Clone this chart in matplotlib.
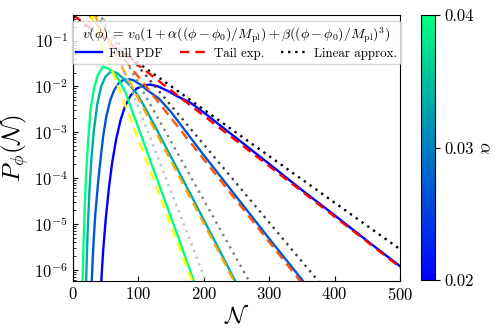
import numpy as np
import matplotlib
matplotlib.use("Agg")
import matplotlib.pyplot as plt
from matplotlib.lines import Line2D

plt.rcParams['font.family'] = 'serif'
plt.rcParams['font.serif'] = ['cmr10']
plt.rcParams['mathtext.fontset'] = 'cm'
plt.rcParams['axes.formatter.use_mathtext'] = True

# alpha values of the four curves
alphas = [0.02, 0.0267, 0.0333, 0.04]

# full PDF (N, log10 P)
full_N = [
    [43, 46, 50, 55, 60, 66, 73, 80, 88, 97, 108, 118, 130, 145, 160, 180,
     200, 225, 250, 300, 350, 400, 450, 500],
    [28.5, 31, 34, 38, 42, 46, 51, 57, 63, 70, 77, 85, 93, 103, 115, 131,
     150, 175, 200, 250, 300, 356],
    [20, 22, 25, 28, 32, 37, 43, 50, 58, 66, 75, 85, 97, 110, 125, 150,
     175, 200, 225, 250],
    [14.5, 16, 18, 20, 23, 27, 32, 38, 46, 55, 62, 70, 80, 90, 100, 120,
     140, 160, 186],
]
full_logP = [
    [-6.3, -5.6, -4.9, -4.2, -3.65, -3.15, -2.72, -2.42, -2.2, -2.05, -1.98,
     -1.96, -2.0, -2.1, -2.22, -2.36, -2.57, -2.85, -3.13, -3.69, -4.26,
     -4.81, -5.37, -5.92],
    [-6.3, -5.5, -4.8, -4.15, -3.6, -3.1, -2.65, -2.3, -2.08, -1.93, -1.86,
     -1.84, -1.87, -1.96, -2.1, -2.26, -2.56, -3.03, -3.5, -4.41, -5.32,
     -6.32],
    [-6.3, -5.3, -4.3, -3.6, -2.95, -2.4, -2.0, -1.78, -1.68, -1.7, -1.8,
     -1.95, -2.15, -2.46, -2.86, -3.54, -4.22, -4.91, -5.6, -6.3],
    [-6.3, -5.5, -4.6, -3.95, -3.2, -2.5, -2.05, -1.75, -1.57, -1.62, -1.7,
     -1.86, -2.12, -2.52, -2.9, -3.69, -4.47, -5.25, -6.3],
]

# tail exponential and linear approximation: straight in log space
line_N = [0, 500]
tail_logP = [
    [-0.44, -5.94],
    [0.006, -8.99],
    [0.451, -13.15],
    [0.584, -18.16],
]
lin_logP = [
    [-0.476, -5.55],
    [0.132, -8.368],
    [0.62, -12.13],
    [1.21, -17.14],
]

legend_title = (r'$v(\phi)\,=\,v_0(1+\alpha((\phi-\phi_0)/M_{\rm pl})'
                r'+\beta((\phi-\phi_0)/M_{\rm pl})^3)$')

fig = plt.figure(figsize=(4.98, 3.33), dpi=100)
ax = fig.add_axes([0.1466, 0.156, 0.6566, 0.799])
cax = fig.add_axes([0.8454, 0.159, 0.0281, 0.796])

cmap = plt.cm.winter
norm = matplotlib.colors.Normalize(vmin=0.02, vmax=0.04)
t = np.linspace(0, 1, len(alphas))
tail_cols = plt.cm.autumn(t)
lin_cols = plt.cm.gray(t * 0.75)

for i, a in enumerate(alphas):
    ax.plot(full_N[i], 10 ** np.array(full_logP[i]), color=cmap(norm(a)), lw=1.7)
    ax.plot(line_N, 10 ** np.array(tail_logP[i]), color=tail_cols[i], lw=1.7,
            ls=(0, (4, 2.5)))
    ax.plot(line_N, 10 ** np.array(lin_logP[i]), color=lin_cols[i], lw=1.7,
            ls=(0, (1, 2)))

ax.set_yscale('log')
ax.set_xlim(0, 500)
ax.set_ylim(5.7e-7, 0.36)
ax.set_xticks([0, 100, 200, 300, 400, 500])
ax.tick_params(which='both', direction='in', labelsize=12)
ax.set_xlabel(r'$\mathcal{N}$', fontsize=17, labelpad=1)
ax.set_ylabel(r'$P_\phi(\mathcal{N})$', fontsize=18, labelpad=2)

handles = [
    Line2D([], [], color='blue', lw=1.7),
    Line2D([], [], color='red', lw=1.7, ls=(0, (4, 2.5))),
    Line2D([], [], color='black', lw=1.7, ls=(0, (1, 2))),
]
leg = ax.legend(handles, ['Full PDF', 'Tail exp.', 'Linear approx.'],
                loc='upper center', ncol=3, fontsize=9.3, title=legend_title,
                title_fontsize=10, handlelength=2, columnspacing=1.3,
                borderpad=0.3, labelspacing=0.2, handletextpad=0.6)

sm = matplotlib.cm.ScalarMappable(norm=norm, cmap=cmap)
cb = fig.colorbar(sm, cax=cax, ticks=[0.02, 0.03, 0.04])
cb.ax.set_yticklabels(['0.02', '0.03', '0.04'])
cb.ax.tick_params(labelsize=12)
cb.set_label(r'$\alpha$', fontsize=13, labelpad=2, rotation=270, va='bottom')

fig.savefig('out.png', dpi=100)
